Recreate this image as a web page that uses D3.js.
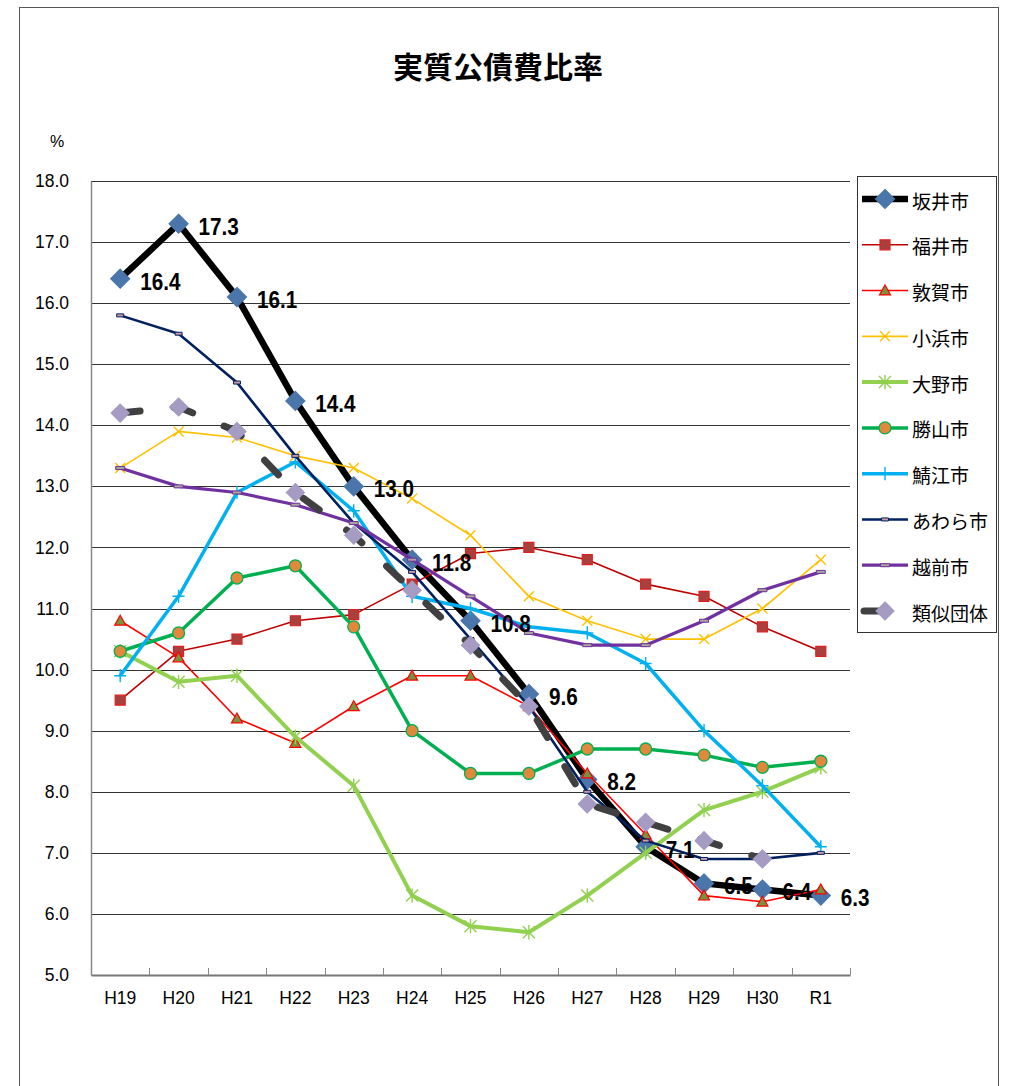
<!DOCTYPE html>
<html>
<head>
<meta charset="utf-8">
<script src="https://cdn.jsdelivr.net/npm/d3@7"></script>
<style>
  body { margin: 0; background: #fff; }
</style>
</head>
<body>
<div id="chart"></div>
<script>
// 年度
const years = ["H19", "H20", "H21", "H22", "H23", "H24", "H25", "H26", "H27", "H28", "H29", "H30", "R1"];

// 系列名
const seriesNames = ["坂井市", "福井市", "敦賀市", "小浜市", "大野市", "勝山市", "鯖江市", "あわら市", "越前市", "類似団体"];

// 実質公債費比率 (%)
const sakai     = [16.4, 17.3, 16.1, 14.4, 13.0, 11.8, 10.8, 9.6, 8.2, 7.1, 6.5, 6.4, 6.3];
const fukui     = [9.5, 10.3, 10.5, 10.8, 10.9, 11.4, 11.9, 12.0, 11.8, 11.4, 11.2, 10.7, 10.3];
const tsuruga   = [10.8, 10.2, 9.2, 8.8, 9.4, 9.9, 9.9, 9.4, 8.3, 7.3, 6.3, 6.2, 6.4];
const obama     = [13.3, 13.9, 13.8, 13.5, 13.3, 12.8, 12.2, 11.2, 10.8, 10.5, 10.5, 11.0, 11.8];
const ono       = [10.3, 9.8, 9.9, 8.9, 8.1, 6.3, 5.8, 5.7, 6.3, 7.0, 7.7, 8.0, 8.4];
const katsuyama = [10.3, 10.6, 11.5, 11.7, 10.7, 9.0, 8.3, 8.3, 8.7, 8.7, 8.6, 8.4, 8.5];
const sabae     = [9.9, 11.2, 12.9, 13.4, 12.6, 11.2, 11.0, 10.7, 10.6, 10.1, 9.0, 8.1, 7.1];
const awara     = [15.8, 15.5, 14.7, 13.5, 12.4, 11.6, 10.5, 9.4, 8.0, 7.2, 6.9, 6.9, 7.0];
const echizen   = [13.3, 13.0, 12.9, 12.7, 12.4, 11.8, 11.2, 10.6, 10.4, 10.4, 10.8, 11.3, 11.6];
const ruiji     = [14.2, 14.3, 13.9, 12.9, 12.2, 11.3, 10.4, 9.4, 7.8, 7.5, 7.2, 6.9, null];

const seriesValues = [sakai, fukui, tsuruga, obama, ono, katsuyama, sabae, awara, echizen, ruiji];

// 目盛
const yTicks = [5, 6, 7, 8, 9, 10, 11, 12, 13, 14, 15, 16, 17, 18];

// 見た目 (系列ごと)
const styles = {
  "坂井市":   {stroke: "#000000", width: 6.5, marker: "diamond", size: 9.5, fill: "#4a76ab", mstroke: "#4a76ab"},
  "福井市":   {stroke: "#c00000", width: 1.6, marker: "square", size: 5, fill: "#a9403d", mstroke: "#e02020"},
  "敦賀市":   {stroke: "#ff0000", width: 1.6, marker: "triangle", size: 5.5, fill: "#77933c", mstroke: "#ff0000"},
  "小浜市":   {stroke: "#ffc000", width: 1.6, marker: "x", size: 5, fill: "none", mstroke: "#ffc000"},
  "大野市":   {stroke: "#92d050", width: 4, marker: "star", size: 6, fill: "none", mstroke: "#92d050"},
  "勝山市":   {stroke: "#00b050", width: 3.5, marker: "circle", size: 6, fill: "#e0883c", mstroke: "#00b050"},
  "鯖江市":   {stroke: "#00b0f0", width: 3.5, marker: "plus", size: 6, fill: "none", mstroke: "#00b0f0"},
  "あわら市": {stroke: "#002060", width: 2.6, marker: "dash", size: 3.5, fill: "#c89aa8", mstroke: "#002060"},
  "越前市":   {stroke: "#7030a0", width: 3.2, marker: "dash", size: 4.5, fill: "#a8a898", mstroke: "#7030a0"},
  "類似団体": {stroke: "#404040", width: 7, marker: "diamond", size: 9, fill: "#a59bc3", mstroke: "#a59bc3", dash: "20 34"}
};

const W = 1009, H = 1086;
const plotLeft = 91, plotRight = 850, plotTop = 181, plotBottom = 975;
const numFont = "'Liberation Sans', Arial, sans-serif";
const jpFont = "'Noto Sans CJK JP', sans-serif";

const x = d3.scaleBand(years, [plotLeft, plotRight]);
const cx = d => x(d) + x.bandwidth() / 2;
const y = d3.scaleLinear([5, 18], [plotBottom, plotTop]);

function markerPath(type, s) {
  switch (type) {
    case "diamond": return `M0,${-s}L${s},0L0,${s}L${-s},0Z`;
    case "square": return `M${-s},${-s}H${s}V${s}H${-s}Z`;
    case "triangle": return `M0,${-s}L${s},${s * 0.8}L${-s},${s * 0.8}Z`;
    case "x": return `M${-s},${-s}L${s},${s}M${-s},${s}L${s},${-s}`;
    case "star": return `M${-s},${-s}L${s},${s}M${-s},${s}L${s},${-s}M0,${-s * 1.2}V${s * 1.2}`;
    case "plus": return `M${-s},0H${s}M0,${-s * 1.1}V${s * 1.1}`;
    case "dash": return `M${-s},-1.5H${s}V1.5H${-s}Z`;
    default: return "";
  }
}

function drawMarker(g, st) {
  if (st.marker === "circle") {
    g.append("circle").attr("r", st.size)
      .attr("fill", st.fill).attr("stroke", st.mstroke).attr("stroke-width", 1.3);
  } else {
    const open = st.fill === "none";
    g.append("path").attr("d", markerPath(st.marker, st.size))
      .attr("fill", st.fill)
      .attr("stroke", st.mstroke)
      .attr("stroke-width", open ? 1.4 : (st.marker === "dash" ? 1 : 1.2));
  }
}

const svg = d3.select("#chart").append("svg")
    .attr("width", W)
    .attr("height", H)
    .attr("viewBox", [0, 0, W, H]);

// 外枠
svg.append("rect")
    .attr("x", 19.5).attr("y", 7.5)
    .attr("width", 979).attr("height", 1100)
    .attr("fill", "#fff").attr("stroke", "#555").attr("stroke-width", 1);

// タイトル
svg.append("text")
    .attr("x", 498).attr("y", 65)
    .attr("text-anchor", "middle").attr("dominant-baseline", "central")
    .style("font-family", jpFont).style("font-weight", "bold").style("font-size", "30px")
    .text("実質公債費比率");

svg.append("text")
    .attr("x", 57).attr("y", 141)
    .attr("text-anchor", "middle").attr("dominant-baseline", "central")
    .style("font-family", numFont).style("font-size", "16px")
    .text("%");

// 横線
svg.append("g")
  .selectAll("line")
  .data(yTicks.filter(t => t > 5))
  .join("line")
    .attr("x1", plotLeft).attr("x2", plotRight)
    .attr("y1", d => Math.round(y(d)) + 0.5).attr("y2", d => Math.round(y(d)) + 0.5)
    .attr("stroke", "#333").attr("stroke-width", 1);

// Y軸
const yAxis = svg.append("g")
    .attr("transform", `translate(${plotLeft},0)`)
    .call(d3.axisLeft(y).tickValues(yTicks).tickSize(0).tickPadding(22).tickFormat(d3.format(".1f")));
yAxis.select(".domain").attr("stroke", "#888").attr("stroke-width", 1.5);
yAxis.selectAll(".tick text")
    .style("font-family", numFont).style("font-size", "17.5px").attr("fill", "#000");

// X軸
const xAxis = svg.append("g")
    .attr("transform", `translate(0,${plotBottom})`)
    .call(d3.axisBottom(x).tickSize(0).tickPadding(17));
xAxis.select(".domain").attr("stroke", "#777").attr("stroke-width", 2);
xAxis.selectAll(".tick text")
    .style("font-family", numFont).style("font-size", "17.5px").attr("fill", "#000");
svg.append("g")
  .selectAll("line")
  .data(years)
  .join("line")
    .attr("x1", d => Math.round(x(d) + x.bandwidth()) + 0.5)
    .attr("x2", d => Math.round(x(d) + x.bandwidth()) + 0.5)
    .attr("y1", plotBottom).attr("y2", plotBottom - 7)
    .attr("stroke", "#888").attr("stroke-width", 1);

// 折れ線
const line = d3.line()
    .defined(d => d.v != null)
    .x(d => cx(d.year))
    .y(d => y(d.v));

const series = seriesNames.map((name, i) => ({
  name,
  points: years.map((year, j) => ({year, v: seriesValues[i][j]}))
}));

const layers = svg.append("g")
  .selectAll("g")
  .data(series)
  .join("g");

layers.append("path")
    .attr("fill", "none")
    .attr("stroke", d => styles[d.name].stroke)
    .attr("stroke-width", d => styles[d.name].width)
    .attr("stroke-linejoin", "round")
    .attr("stroke-linecap", d => styles[d.name].dash ? "round" : "butt")
    .attr("stroke-dasharray", d => styles[d.name].dash || null)
    .attr("d", d => line(d.points));

layers.each(function(s) {
  const st = styles[s.name];
  d3.select(this).selectAll("g.mk")
    .data(s.points.filter(p => p.v != null))
    .join("g")
      .attr("class", "mk")
      .attr("transform", p => `translate(${cx(p.year)},${y(p.v)})`)
      .each(function() { drawMarker(d3.select(this), st); });
});

// 坂井市のデータラベル (少し縦長の書体に寄せる)
svg.append("g")
  .selectAll("text")
  .data(years.map((year, j) => ({year, v: sakai[j]})))
  .join("text")
    .attr("transform", d => `translate(${cx(d.year) + 20},${y(d.v) + 3}) scale(0.9,1)`)
    .attr("dominant-baseline", "central")
    .style("font-family", numFont)
    .style("font-weight", "bold")
    .style("font-size", "23px")
    .text(d => d3.format(".1f")(d.v));

// 凡例
const legend = svg.append("g");
legend.append("rect")
    .attr("x", 857.5).attr("y", 176.5)
    .attr("width", 139).attr("height", 456)
    .attr("fill", "#fff").attr("stroke", "#333").attr("stroke-width", 1);

const legendY = d3.scalePoint(seriesNames, [199, 611]);
const item = legend.selectAll("g.item")
  .data(seriesNames)
  .join("g")
    .attr("class", "item")
    .attr("transform", d => `translate(0,${legendY(d)})`);

item.append("line")
    .attr("x1", d => styles[d].dash ? 864 : 862)
    .attr("x2", d => styles[d].dash ? 878 : 908)
    .attr("y1", 0).attr("y2", 0)
    .attr("stroke", d => styles[d].stroke)
    .attr("stroke-width", d => styles[d].width)
    .attr("stroke-linecap", d => styles[d].dash ? "round" : "butt");

item.append("g")
    .attr("transform", "translate(885,0)")
    .each(function(d) { drawMarker(d3.select(this), styles[d]); });

item.append("text")
    .attr("x", 912).attr("y", 1)
    .attr("dominant-baseline", "central")
    .style("font-family", jpFont).style("font-size", "19px")
    .text(d => d);
</script>
</body>
</html>
